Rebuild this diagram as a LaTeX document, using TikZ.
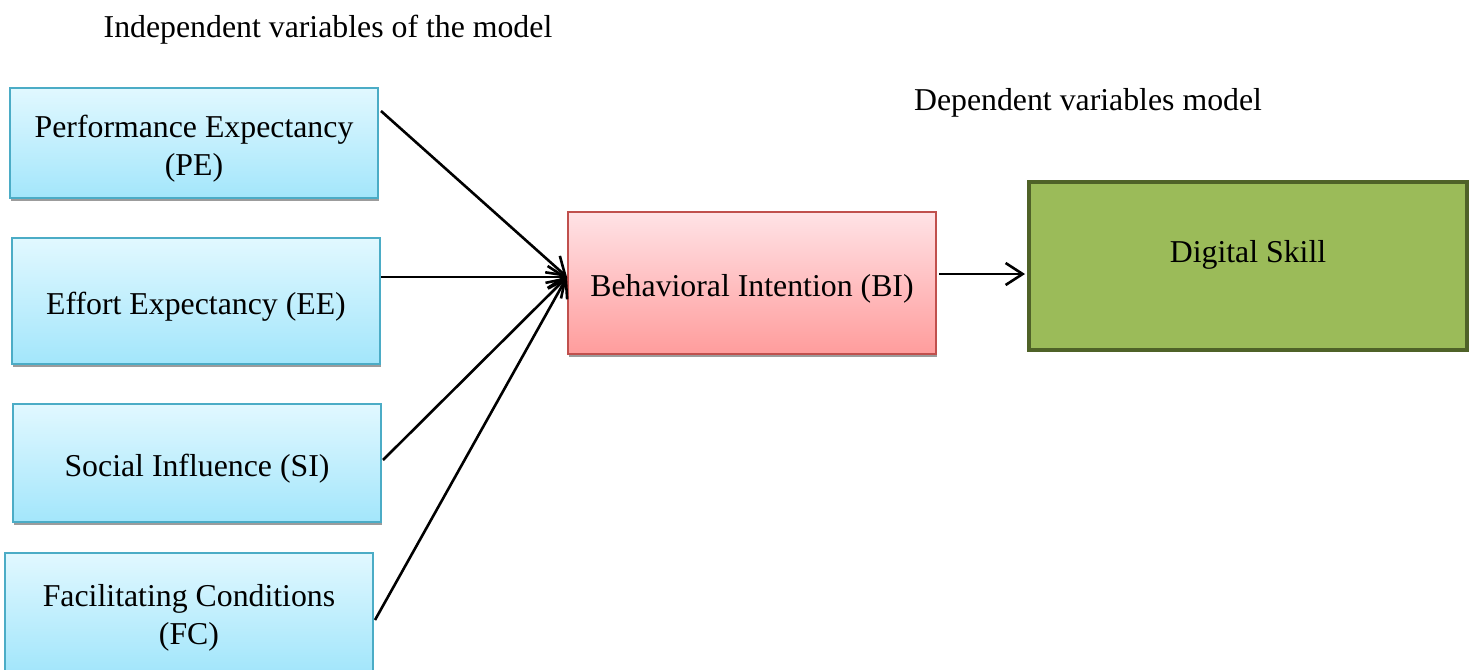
\documentclass[tikz,border=0pt]{standalone}
\usepackage{fontspec}
\setmainfont{Liberation Serif}
\usetikzlibrary{arrows.meta,shadows}

\definecolor{ivtop}{HTML}{E1F8FF}
\definecolor{ivbot}{HTML}{A3E6FB}
\definecolor{ivline}{HTML}{4BACC6}
\definecolor{bitop}{HTML}{FFE3E6}
\definecolor{bibot}{HTML}{FF9C9C}
\definecolor{biline}{HTML}{C0504D}
\definecolor{dsfill}{HTML}{9BBB59}
\definecolor{dsline}{HTML}{4F6228}
\definecolor{shadowgray}{HTML}{9C9C9C}

% box text, set a little below the box centre
\newcommand\boxtext[1]{\raisebox{-2.75pt}[\height][\depth]{\begin{tabular}{@{}c@{}}#1\end{tabular}}}

\tikzset{
  boxshadow/.style={general shadow={fill=shadowgray, shadow xshift=0.5pt, shadow yshift=-1.5pt}},
  ivbox/.style={rectangle, draw=ivline, line width=1pt, top color=ivtop, bottom color=ivbot,
    boxshadow, minimum width=184pt, inner sep=0pt},
  bibox/.style={rectangle, draw=biline, line width=1pt, top color=bitop, bottom color=bibot,
    boxshadow, minimum width=184pt, minimum height=71pt, inner sep=0pt},
  dsbox/.style={rectangle, draw=dsline, line width=2pt, fill=dsfill,
    minimum width=219pt, minimum height=84pt, inner sep=0pt,
    text height=11pt, text depth=14.4pt},
  caption/.style={inner sep=0pt},
  link/.style={line width=1.3pt, -{Straight Barb[length=8.5pt,width=11pt,line width=1.3pt]}}
}

\begin{document}
\begin{tikzpicture}[x=0.5pt, y=-0.5pt, font=\fontsize{15.9}{19}\selectfont]
\useasboundingbox (0,0) rectangle (1476,669);

% headings
\node[caption] (indep) at (328,30) {Independent variables of the model};
\node[caption] (dep) at (1088,103) {Dependent variables model};

% independent variables
\node[ivbox, minimum height=55pt] (pe) at (194,143) {\boxtext{Performance Expectancy\\(PE)}};
\node[ivbox, minimum height=63pt] (ee) at (196,301) {\boxtext{Effort Expectancy (EE)}};
\node[ivbox, minimum height=59pt] (si) at (197,463) {\boxtext{Social Influence (SI)}};
\node[ivbox, minimum height=59pt] (fc) at (189,612) {\boxtext{Facilitating Conditions\\(FC)}};

% mediating and dependent variables
\node[bibox] (bi) at (752,283) {\boxtext{Behavioral Intention (BI)}};
\node[dsbox] (ds) at (1248,266) {Digital Skill};

% connectors
\coordinate (hub) at ([shift={(0,-6)}]bi.west);
\coordinate (biout) at ([shift={(2,-9)}]bi.east);

\draw[link] ([shift={(2,24)}]pe.north east) -- (hub);
\draw[link] (ee.east |- hub) -- (hub);
\draw[link] ([shift={(1,-3)}]si.east) -- (hub);
\draw[link] ([shift={(1,8)}]fc.east) -- (hub);
\draw[link] (biout) -- ([xshift=-1pt]ds.west |- biout);
\end{tikzpicture}
\end{document}
